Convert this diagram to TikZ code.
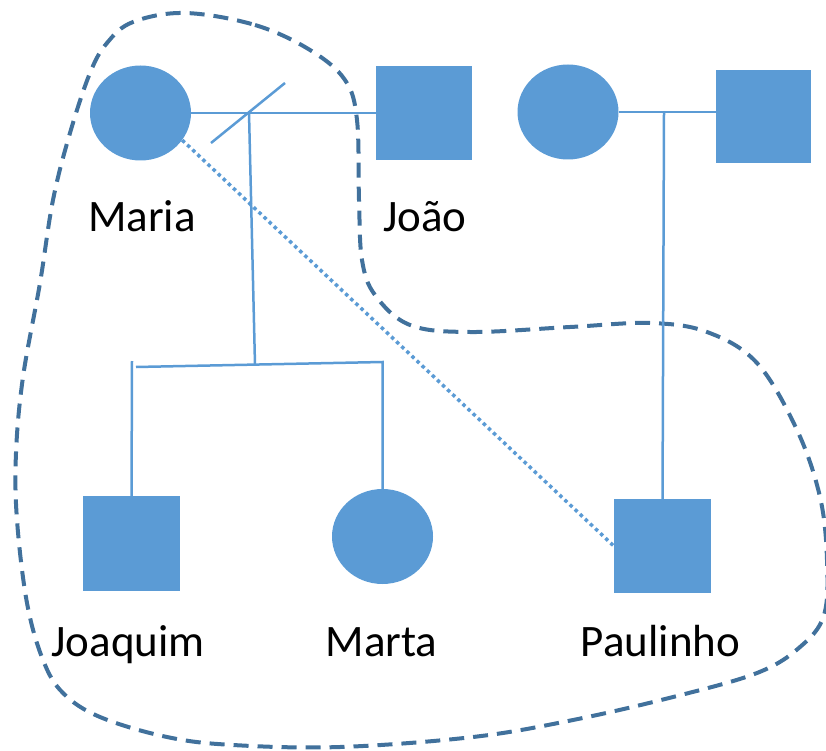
\documentclass[tikz,border=0pt]{standalone}
\usepackage{fontspec}
\setmainfont{Carlito}
\usetikzlibrary{shapes.geometric}
\definecolor{sym}{HTML}{5B9BD5}
\definecolor{enc}{HTML}{41719C}
\begin{document}
\begin{tikzpicture}[x=1pt,y=-1pt,
  fem/.style={ellipse,fill=sym,draw=none,minimum width=101pt,minimum height=95pt,inner sep=0pt},
  masc/.style={rectangle,fill=sym,draw=none,minimum width=96pt,minimum height=94pt,inner sep=0pt},
  lbl/.style={anchor=base,inner sep=0pt,font=\fontsize{45}{54}\selectfont,text=black},
  conn/.style={draw=sym,line width=2.5pt},
  dotline/.style={draw=sym,line width=3.5pt,dash pattern=on 3.5pt off 3.5pt},
  encl/.style={draw=enc,line width=4pt,dash pattern=on 15pt off 9pt}]
\useasboundingbox (0,0) rectangle (826,751);
% enclosure
\draw[encl] plot[smooth cycle,tension=0.6] coordinates {
 (185,13) (255,25) (310,50) (345,80) (357,120) (359,200) (362,260) (375,295)
 (410,325) (470,332) (570,327) (650,323) (707,332) (757,363) (797,430) (820,497)
 (827,560) (824,615) (800,647) (757,673) (673,697) (573,720) (473,737) (340,747)
 (233,745) (167,737) (100,717) (63,693) (43,660) (27,603) (17,520) (16,453)
 (23,377) (40,283) (53,200) (70,133) (90,73) (107,43) (133,22)};
% persons
\node[fem] (maria) at (140.5,113) {};
\node[masc] (joao) at (424,113) {};
\node[fem] (wife) at (568,112) {};
\node[masc,minimum width=95pt,minimum height=93pt] (husband) at (763.5,116.5) {};
\node[masc,minimum width=97pt,minimum height=95pt] (joaquim) at (131.5,543.5) {};
\node[fem] (marta) at (382.5,536.5) {};
\node[masc,minimum width=97pt] (paulinho) at (662.5,546) {};
% labels
\node[lbl] (lmaria) at (142,232) {Maria};
\node[lbl] (ljoao) at (425,232) {João};
\node[lbl] (ljoaquim) at (128,656) {Joaquim};
\node[lbl] (lmarta) at (381.5,656) {Marta};
\node[lbl] (lpaulinho) at (660.5,656) {Paulinho};
% connectors
\coordinate (m1) at (249,112.5);
\coordinate (s1) at (211,143);
\coordinate (s2) at (285,83);
\coordinate (sib) at (255,365);
\coordinate (sibL) at (136,367);
\coordinate (sibR) at (382.5,362);
\coordinate (jt) at (132,361);
\coordinate (r1) at (664,112);
\draw[conn] (maria.east) -- (joao.west);
\draw[conn] (s1) -- (s2);
\draw[conn] (m1) -- (sib);
\draw[conn] (sibL) -- (sibR) -- (marta.north);
\draw[conn] (jt) -- ([yshift=-4pt]joaquim.north);
\draw[conn] (wife.east) -- (wife.east -| husband.west);
\draw[conn] (r1) -- ([yshift=-5pt]paulinho.north);
\draw[dotline] (maria.-33) -- (paulinho.west);
\end{tikzpicture}
\end{document}
